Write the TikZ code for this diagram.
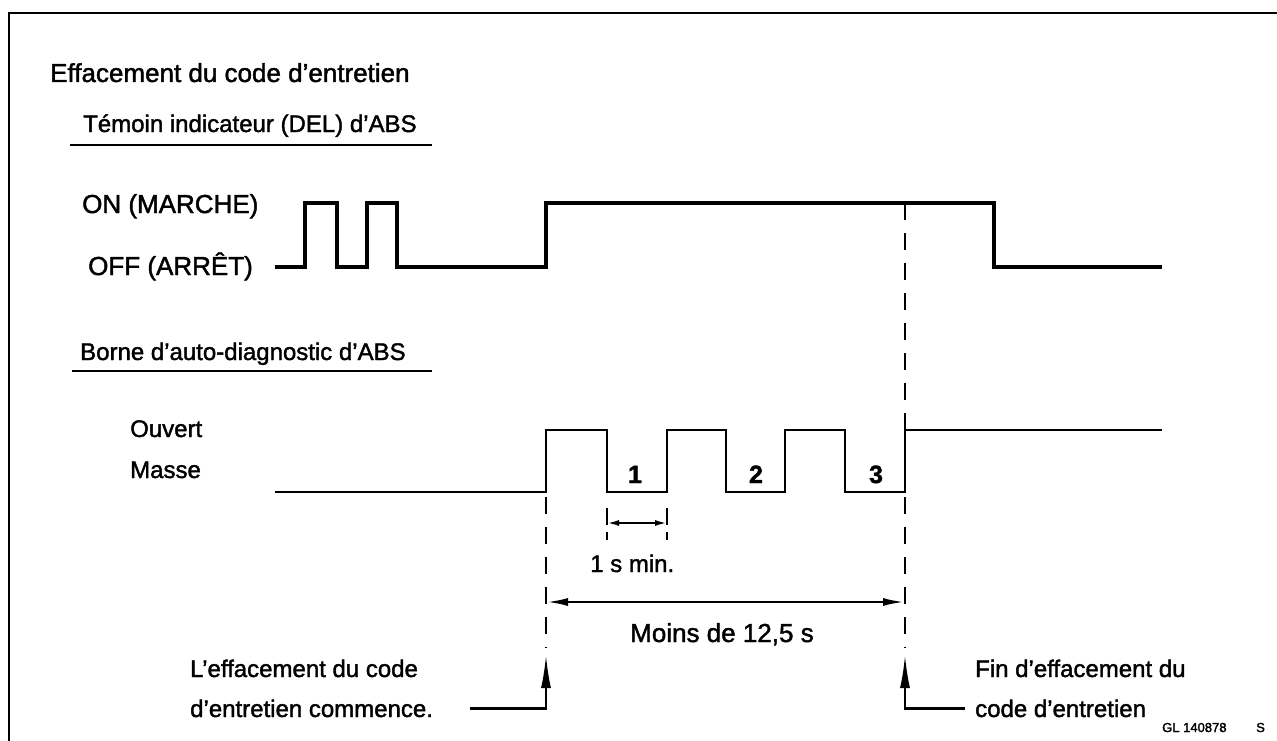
\documentclass[tikz,border=0pt]{standalone}
\usepackage{fontspec}
\setmainfont{Liberation Sans}[FakeBold=1.6]
\newfontfamily\codefont{Liberation Sans}[FakeBold=2]
\usetikzlibrary{arrows.meta}
\begin{document}
\begin{tikzpicture}[x=1pt,y=-1pt,
  lbl/.style={anchor=base west, inner sep=0pt, font=\fontsize{24}{28}\selectfont},
  big/.style={lbl, font=\fontsize{26}{30}\selectfont},
  num/.style={anchor=base, inner sep=0pt, font=\fontsize{25}{28}\selectfont\bfseries},
  frameline/.style={line width=2.8pt},
  rule/.style={line width=2.6pt},
  led/.style={line width=3.2pt, line join=miter},
  term/.style={line width=2pt, line join=miter},
  guide/.style={line width=2.2pt, dash pattern=on 17pt off 13pt},
  tick/.style={line width=1.6pt, dash pattern=on 17pt off 7pt},
  pointer/.style={line width=2.2pt, -{Latex[length=33pt,width=10pt]}},
  span/.style={line width=2.6pt, {Latex[length=22pt,width=8pt]}-{Latex[length=22pt,width=8pt]}},
  small/.style={line width=2pt, {Latex[length=12pt,width=6pt]}-{Latex[length=12pt,width=6pt]}}
]
\useasboundingbox (0,0) rectangle (1277,741);
% frame
\draw[frameline] (1277,13) -- (9,13) -- (9,741);
% titles
\node[big] (title) at (50,82) {Effacement du code d'entretien};
\node[lbl] (ledhead) at (83,132) {Témoin indicateur (DEL) d'ABS};
\draw[rule] (70,145) -- (432,145);
\node[big] (on) at (82,213) {ON (MARCHE)};
\node[big] (off) at (88,275) {OFF (ARRÊT)};
% LED waveform
\draw[led] (275,267) -- (305,267) -- (305,203) -- (337,203) -- (337,267)
  -- (367,267) -- (367,203) -- (397,203) -- (397,267) -- (546,267)
  -- (546,203) -- (994,203) -- (994,267) -- (1162,267);
% terminal
\node[lbl] (termhead) at (80,360) {Borne d'auto-diagnostic d'ABS};
\draw[rule] (72,371) -- (432,371);
\node[lbl] (ouvert) at (130,437) {Ouvert};
\node[lbl] (masse) at (130,478) {Masse};
\draw[term] (275,492) -- (546,492) -- (546,430) -- (607,430) -- (607,492)
  -- (667,492) -- (667,430) -- (726,430) -- (726,492) -- (785,492)
  -- (785,430) -- (845,430) -- (845,492) -- (905,492) -- (905,430) -- (1162,430);
\node[num] (n1) at (635,483) {1};
\node[num] (n2) at (756,483) {2};
\node[num] (n3) at (876,483) {3};
% 1 s min
\draw[tick] (607,508) -- (607,540);
\draw[tick] (667,508) -- (667,540);
\draw[small] (607,523) -- (667,523);
\node[lbl] (onesec) at (590,572) {1 s min.};
% guides
\draw[guide] (546,497) -- (546,648);
\draw[guide] (905,203) -- (905,430);
\draw[guide] (905,497) -- (905,648);
\draw[span] (546,602) -- (905,602);
\node[big] (moins) at (630,642) {Moins de 12,5 s};
% captions
\node[lbl] (start1) at (190,677) {L'effacement du code};
\node[lbl] (start2) at (190,717) {d'entretien commence.};
\node[lbl] (end1) at (975,677) {Fin d'effacement du};
\node[lbl] (end2) at (975,717) {code d'entretien};
\coordinate (startpt) at (546,655);
\coordinate (endpt) at (905,655);
\draw[pointer] (start2.east) ++(37,0) -| (startpt);
\draw[pointer] (end2.west) ++(-10,0) -| (endpt);
\node[anchor=base west, inner sep=0pt, font=\codefont\fontsize{13}{14}\selectfont] (code) at (1162,732) {GL 140878};
\node[anchor=base west, inner sep=0pt, font=\codefont\fontsize{13}{14}\selectfont] (codes) at (1256,732) {S};
\end{tikzpicture}
\end{document}
